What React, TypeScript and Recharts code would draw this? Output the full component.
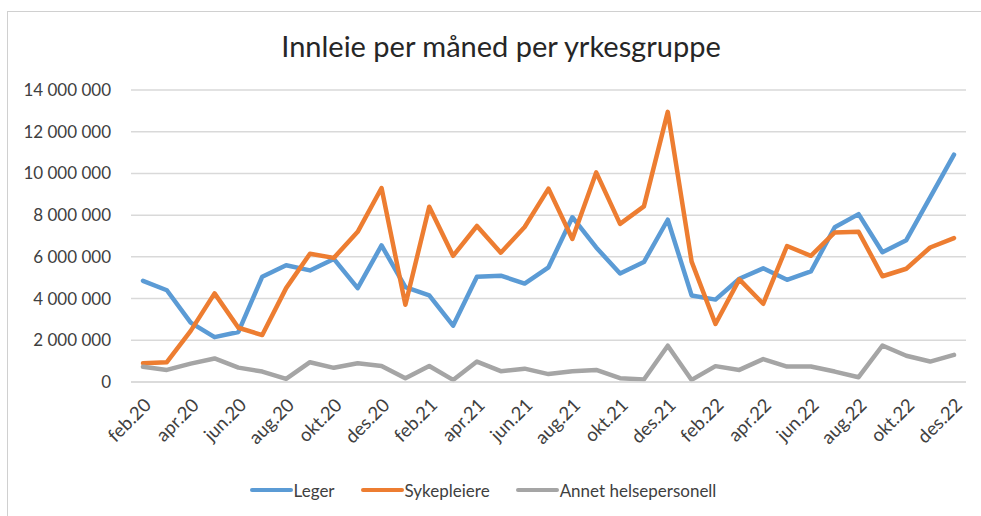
import { LineChart, Line, XAxis, YAxis, CartesianGrid, Legend } from 'recharts';

// måneder feb.20 - des.22
const months = [
  'feb.20', 'mar.20', 'apr.20', 'mai.20', 'jun.20', 'jul.20', 'aug.20', 'sep.20', 'okt.20', 'nov.20', 'des.20',
  'jan.21', 'feb.21', 'mar.21', 'apr.21', 'mai.21', 'jun.21', 'jul.21', 'aug.21', 'sep.21', 'okt.21', 'nov.21', 'des.21',
  'jan.22', 'feb.22', 'mar.22', 'apr.22', 'mai.22', 'jun.22', 'jul.22', 'aug.22', 'sep.22', 'okt.22', 'nov.22', 'des.22',
];

const leger = [
  4850000, 4400000, 2850000, 2150000, 2400000, 5050000, 5600000, 5350000, 5900000, 4500000, 6550000,
  4550000, 4150000, 2700000, 5050000, 5100000, 4720000, 5500000, 7900000, 6450000, 5200000, 5750000, 7780000,
  4150000, 3950000, 4950000, 5450000, 4900000, 5300000, 7420000, 8050000, 6220000, 6800000, 8850000, 10900000,
];

const sykepleiere = [
  900000, 950000, 2450000, 4250000, 2600000, 2250000, 4500000, 6150000, 5950000, 7200000, 9300000,
  3700000, 8400000, 6050000, 7480000, 6200000, 7430000, 9270000, 6860000, 10050000, 7580000, 8420000, 12950000,
  5770000, 2780000, 4920000, 3750000, 6520000, 6050000, 7170000, 7200000, 5070000, 5430000, 6450000, 6900000,
];

const annet = [
  730000, 580000, 880000, 1130000, 690000, 500000, 150000, 950000, 680000, 900000, 770000,
  180000, 770000, 100000, 980000, 520000, 640000, 380000, 520000, 580000, 180000, 120000, 1740000,
  100000, 760000, 580000, 1100000, 740000, 740000, 500000, 230000, 1750000, 1260000, 980000, 1300000,
];

const yTicks = [0, 2000000, 4000000, 6000000, 8000000, 10000000, 12000000, 14000000];

const SERIES = [
  { key: 'leger', name: 'Leger', color: '#5B9BD5' },
  { key: 'sykepleiere', name: 'Sykepleiere', color: '#ED7D31' },
  { key: 'annet', name: 'Annet helsepersonell', color: '#A5A5A5' },
];

const FONT = 'Lato, "Open Sans", sans-serif';

const data = months.map((m, i) => ({
  month: m,
  leger: leger[i],
  sykepleiere: sykepleiere[i],
  annet: annet[i],
}));

// 14000000 -> "14 000 000"
const fmt = (v: number) => String(v).replace(/\B(?=(\d{3})+(?!\d))/g, ' ');

function LegendBox() {
  return (
    <div style={{ height: 30, display: 'flex', justifyContent: 'center', alignItems: 'center', gap: 26, fontFamily: FONT, fontSize: 17, color: '#404040' }}>
      {SERIES.map((s) => (
        <div key={s.key} style={{ display: 'flex', alignItems: 'center' }}>
          <span style={{ display: 'inline-block', width: 43, height: 4, borderRadius: 2, background: s.color, marginRight: 1 }} />
          <span>{s.name}</span>
        </div>
      ))}
    </div>
  );
}

export default function App() {
  return (
    <div style={{ position: 'absolute', left: 0, top: 0, width: 981, height: 516, overflow: 'hidden', background: '#fff' }}>
      <style>{'body{margin:0}'}</style>
      <div style={{ position: 'absolute', left: 7, top: 11, right: -10, bottom: -10, border: '1px solid #d0d0d0' }} />
      <div style={{ position: 'absolute', left: 0, top: 29, width: 1002, textAlign: 'center', fontFamily: FONT, fontSize: 29, lineHeight: '34px', color: '#262626' }}>
        Innleie per måned per yrkesgruppe
      </div>
      <LineChart width={981} height={516} data={data} margin={{ top: 90, right: 15, left: 0, bottom: 11 }} style={{ position: 'absolute', left: 0, top: 0 }}>
        <CartesianGrid vertical={false} stroke="#d9d9d9" strokeWidth={1.5} />
        <XAxis
          dataKey="month"
          interval={1}
          height={93}
          padding={{ left: 12, right: 12 }}
          axisLine={{ stroke: '#d9d9d9', strokeWidth: 1.5 }}
          tickLine={false}
          tickMargin={9}
          angle={-45}
          textAnchor="end"
          tick={{ fill: '#404040', fontSize: 18.5, fontFamily: FONT }}
        />
        <YAxis
          domain={[0, 14000000]}
          ticks={yTicks}
          width={131}
          axisLine={false}
          tickLine={false}
          tickMargin={14}
          tickFormatter={fmt}
          tick={{ fill: '#404040', fontSize: 17, fontFamily: FONT }}
        />
        <Legend verticalAlign="bottom" content={() => <LegendBox />} />
        {SERIES.map((s) => (
          <Line
            key={s.key}
            type="linear"
            dataKey={s.key}
            name={s.name}
            stroke={s.color}
            strokeWidth={4.5}
            strokeLinecap="round"
            strokeLinejoin="round"
            dot={false}
            isAnimationActive={false}
          />
        ))}
      </LineChart>
    </div>
  );
}
